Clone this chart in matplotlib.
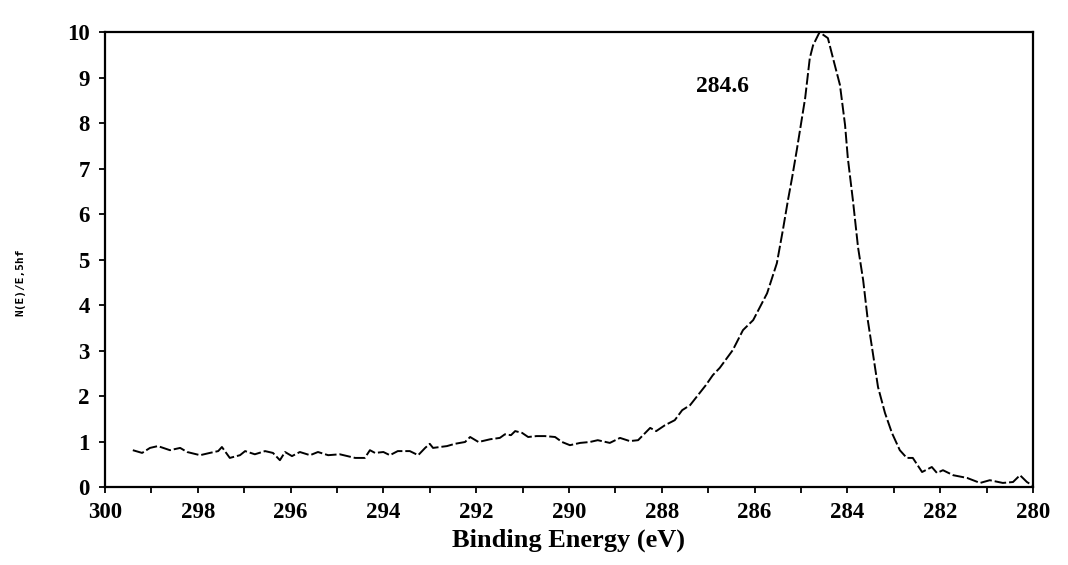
import matplotlib.pyplot as plt
from matplotlib.ticker import MultipleLocator

# C 1s spectrum, binding energy (eV) vs counts
energy = [299.40, 299.20, 299.03, 298.86, 298.60, 298.38, 298.23, 297.95, 297.74,
          297.56, 297.48, 297.31, 297.09, 296.98, 296.77, 296.55, 296.38, 296.23,
          296.12, 295.97, 295.80, 295.58, 295.41, 295.19, 294.94, 294.61, 294.40,
          294.29, 294.18, 294.00, 293.86, 293.69, 293.43, 293.25, 293.10, 293.00,
          292.93, 292.78, 292.63, 292.46, 292.24, 292.13, 291.95, 291.70, 291.49,
          291.38, 291.25, 291.16, 291.01, 290.88, 290.70, 290.52, 290.30, 290.15,
          289.98, 289.76, 289.55, 289.38, 289.12, 288.90, 288.69, 288.51, 288.25,
          288.12, 287.93, 287.72, 287.56, 287.39, 287.22, 287.05, 286.90, 286.75,
          286.47, 286.25, 286.03, 285.73, 285.52, 285.39, 285.28, 285.19, 285.09,
          284.91, 284.81, 284.74, 284.60, 284.42, 284.31, 284.16, 284.05, 283.99,
          283.88, 283.77, 283.66, 283.56, 283.45, 283.34, 283.19, 283.04, 282.87,
          282.72, 282.59, 282.39, 282.18, 282.07, 281.94, 281.72, 281.42, 281.14,
          280.93, 280.65, 280.43, 280.28, 280.13, 280.02]
counts = [0.81, 0.75, 0.86, 0.90, 0.81, 0.86, 0.77, 0.70, 0.75,
          0.79, 0.88, 0.64, 0.70, 0.79, 0.72, 0.79, 0.75, 0.59,
          0.77, 0.68, 0.77, 0.70, 0.77, 0.70, 0.72, 0.64, 0.64,
          0.81, 0.75, 0.77, 0.70, 0.79, 0.79, 0.70, 0.86, 0.95,
          0.86, 0.88, 0.90, 0.95, 0.99, 1.10, 0.99, 1.05, 1.08,
          1.16, 1.14, 1.23, 1.19, 1.10, 1.12, 1.12, 1.10, 0.99,
          0.92, 0.97, 0.99, 1.03, 0.97, 1.08, 1.01, 1.03, 1.30,
          1.23, 1.36, 1.47, 1.69, 1.80, 2.02, 2.24, 2.46, 2.62,
          3.01, 3.45, 3.67, 4.26, 4.92, 5.65, 6.31, 6.81, 7.41,
          8.55, 9.43, 9.71, 10.0, 9.87, 9.43, 8.84, 7.96, 7.23,
          6.30, 5.27, 4.55, 3.67, 2.94, 2.20, 1.63, 1.19, 0.81,
          0.64, 0.64, 0.33, 0.44, 0.31, 0.37, 0.26, 0.20, 0.09,
          0.15, 0.09, 0.11, 0.26, 0.11, 0.04]

peak_energy = 284.6

serif = 'Liberation Serif'

fig = plt.figure(figsize=(10.68, 5.65), dpi=100)
ax = fig.add_axes([0.0983, 0.138, 0.8689, 0.805])

ax.plot(energy, counts, color='black', linewidth=1.4, linestyle=(0, (6, 1.5)))

ax.set_xlim(300, 280)
ax.set_ylim(0, 10)
ax.xaxis.set_major_locator(MultipleLocator(2))
ax.xaxis.set_minor_locator(MultipleLocator(1))
ax.yaxis.set_major_locator(MultipleLocator(1))

ax.tick_params(axis='both', which='both', direction='out', length=4, width=1.3,
               color='black')
ax.tick_params(axis='x', which='major', pad=7)
ax.tick_params(axis='y', which='major', pad=7)
for lbl in ax.get_xticklabels() + ax.get_yticklabels():
    lbl.set_fontfamily(serif)
    lbl.set_fontweight('bold')
    lbl.set_fontsize(16.5)

for sp in ax.spines.values():
    sp.set_linewidth(1.6)

ax.text(peak_energy + 2.1, 8.8, '%.1f' % peak_energy, fontfamily=serif,
        fontweight='bold', fontsize=17, ha='center', va='center')

ax.set_xlabel('Binding Energy (eV)', fontfamily=serif, fontweight='bold',
              fontsize=19, labelpad=4)
fig.text(0.019, 0.50, 'N(E)/E,5hf', rotation=90, fontfamily='DejaVu Sans Mono',
         fontweight='bold', fontsize=8, ha='center', va='center')

fig.savefig('out.png', dpi=100)
